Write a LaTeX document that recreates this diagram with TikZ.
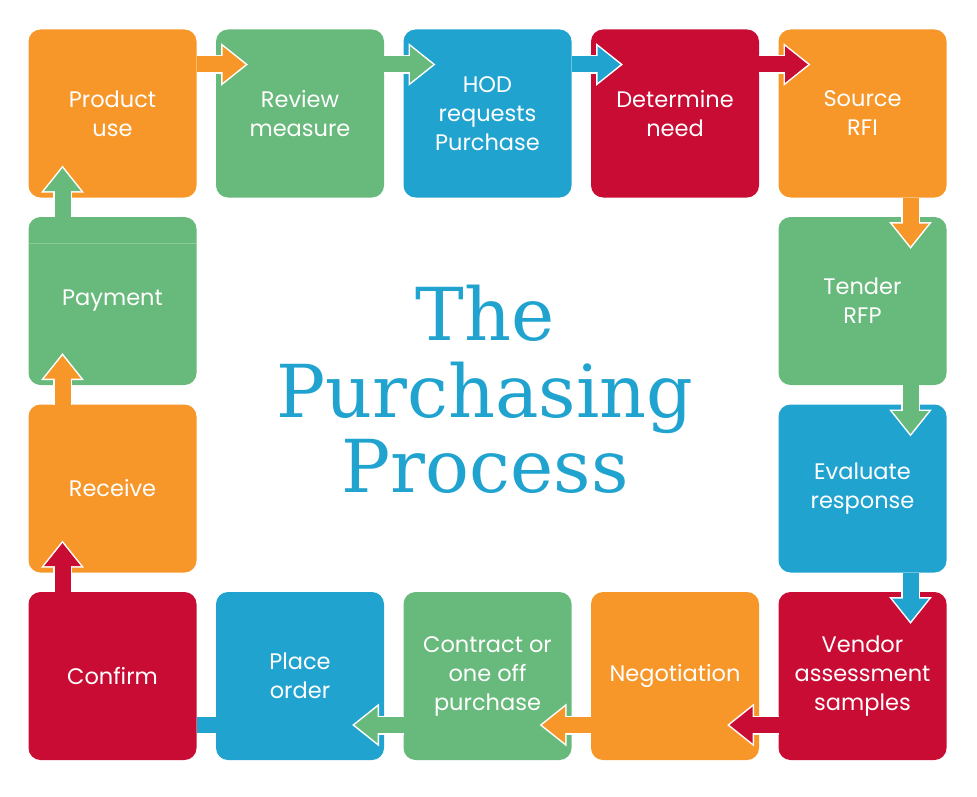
\documentclass[tikz,border=0pt]{standalone}
\usepackage{fontspec}
\setmainfont{Poppins}
\newfontfamily\titlefont{DejaVu Serif}
\usetikzlibrary{arrows.meta,positioning}
\definecolor{procorange}{RGB}{247,151,41}
\definecolor{procgreen}{RGB}{104,185,124}
\definecolor{procblue}{RGB}{33,163,208}
\definecolor{procred}{RGB}{200,12,52}

\begin{document}
\begin{tikzpicture}[
    x=1pt, y=1pt,
    node distance=19.5pt,
    every node/.style={font=\fontsize{22.5}{29}\selectfont},
    box/.style={rounded corners=12pt, minimum width=168pt, minimum height=168pt, outer sep=0pt, text=white, align=center},
    title/.style={anchor=base, text=procblue, font=\titlefont\fontsize{73}{76}\selectfont},
    flow/.style={line width=16pt, -{Triangle[length=23pt,width=35pt]}, shorten >=2.5pt,
      preaction={draw=white, line width=19pt, -{Triangle[length=27pt,width=41pt]}, shorten >=0pt}}
  ]
    \useasboundingbox (0,0) rectangle (977,-797);

    % the ring of steps
    \node[box, fill=procorange] (prod) at (112.5,-113.5) {Product\\use};
    \node[box, fill=procgreen, right=of prod] (rev) {Review\\measure};
    \node[box, fill=procblue, right=of rev] (hod) {HOD\\requests\\Purchase};
    \node[box, fill=procred, right=of hod] (need) {Determine\\need};
    \node[box, fill=procorange, right=of need] (rfi) {Source\\RFI};
    \node[box, fill=procgreen, below=of rfi] (rfp) {Tender\\RFP};
    \node[box, fill=procblue, below=of rfp] (eval) {Evaluate\\response};
    \node[box, fill=procred, below=of eval] (vendor) {Vendor\\assessment\\samples};
    \node[box, fill=procorange, left=of vendor] (nego) {Negotiation};
    \node[box, fill=procgreen, left=of nego] (contract) {Contract or\\one off\\purchase};
    \node[box, fill=procblue, left=of contract] (order) {Place\\order};
    \node[box, fill=procred, left=of order] (confirm) {Confirm};
    \node[box, fill=procorange, above=of confirm] (receive) {Receive};
    \node[box, fill=procgreen, above=of receive] (payment) {Payment};
    \draw[white, opacity=.25, line width=1pt] ([yshift=-26pt]payment.north west) -- ([yshift=-26pt]payment.north east);

    % title
    \node[title] (t1) at (485,-340) {The};
    \node[title] (t2) at (485,-417) {Purchasing};
    \node[title] (t3) at (485,-492) {Process};

    % top row
    \draw[flow, procorange] ([yshift=-35pt]prod.north east) -- ([xshift=32pt,yshift=-35pt]rev.north west);
    \draw[flow, procgreen] ([yshift=-35pt]rev.north east) -- ([xshift=32pt,yshift=-35pt]hod.north west);
    \draw[flow, procblue] ([yshift=-35pt]hod.north east) -- ([xshift=32pt,yshift=-35pt]need.north west);
    \draw[flow, procred] ([yshift=-35pt]need.north east) -- ([xshift=32pt,yshift=-35pt]rfi.north west);
    % right column
    \draw[flow, procorange] ([xshift=-36pt]rfi.south east) -- ([xshift=-36pt,yshift=-32pt]rfp.north east);
    \draw[flow, procgreen] ([xshift=-36pt]rfp.south east) -- ([xshift=-36pt,yshift=-32pt]eval.north east);
    \draw[flow, procblue] ([xshift=-36pt]eval.south east) -- ([xshift=-36pt,yshift=-32pt]vendor.north east);
    % bottom row
    \draw[flow, procred] ([yshift=35pt]vendor.south west) -- ([xshift=-32pt,yshift=35pt]nego.south east);
    \draw[flow, procorange] ([yshift=35pt]nego.south west) -- ([xshift=-32pt,yshift=35pt]contract.south east);
    \draw[flow, procgreen] ([yshift=35pt]contract.south west) -- ([xshift=-32pt,yshift=35pt]order.south east);
    \draw[procblue, line width=16pt] ([yshift=35pt]order.south west) -- ([yshift=35pt]confirm.south east);
    % left column
    \draw[flow, procred] ([xshift=34pt]confirm.north west) -- ([xshift=34pt,yshift=32pt]receive.south west);
    \draw[flow, procorange] ([xshift=34pt]receive.north west) -- ([xshift=34pt,yshift=32pt]payment.south west);
    \draw[flow, procgreen] ([xshift=34pt]payment.north west) -- ([xshift=34pt,yshift=32pt]prod.south west);
\end{tikzpicture}
\end{document}
